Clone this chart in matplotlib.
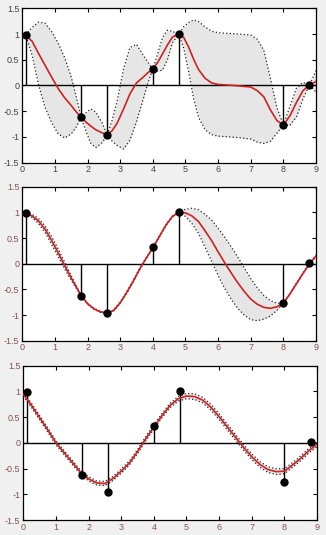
import matplotlib
matplotlib.use("Agg")
import matplotlib.pyplot as plt

# Observations (same in all three panels)
pts_x = [0.1, 1.8, 2.6, 4.0, 4.8, 8.0, 8.8]
pts_y = [0.98, -0.62, -0.96, 0.32, 1.0, -0.77, 0.01]

# Panel 1: predictive mean and half width of the band
x1 = [0.0, 0.1, 0.3, 0.5, 0.7, 0.9, 1.1, 1.3, 1.5, 1.65, 1.8, 1.95, 2.1, 2.25, 2.45, 2.6,
      2.75, 2.9, 3.1, 3.3, 3.5, 3.7, 3.85, 4.0, 4.15, 4.3, 4.45, 4.6, 4.8, 4.95, 5.1, 5.25,
      5.4, 5.6, 5.8, 6.0, 6.5, 7.0, 7.2, 7.4, 7.6, 7.8, 8.0, 8.2, 8.4, 8.6, 8.8, 9.0]
m1 = [0.95, 0.98, 0.86, 0.62, 0.39, 0.16, -0.06, -0.24, -0.39, -0.51, -0.62, -0.71, -0.79, -0.86,
      -0.92, -0.96, -0.88, -0.74, -0.46, -0.16, 0.05, 0.16, 0.25, 0.32, 0.45, 0.62, 0.79, 0.94,
      1.0, 0.93, 0.74, 0.51, 0.31, 0.14, 0.05, 0.02, 0.0, -0.03, -0.10, -0.22, -0.47, -0.68,
      -0.77, -0.59, -0.33, -0.10, 0.01, 0.08]
w1 = [0.05, 0.0, 0.27, 0.61, 0.82, 0.885, 0.88, 0.78, 0.55, 0.30, 0.0, 0.18, 0.335, 0.345,
      0.19, 0.0, 0.20, 0.42, 0.775, 0.90, 0.75, 0.435, 0.2, 0.0, 0.17, 0.32, 0.285, 0.11,
      0.0, 0.215, 0.485, 0.765, 0.93, 1.0, 1.005, 1.005, 1.005, 1.01, 1.0, 0.905, 0.615, 0.25,
      0.0, 0.185, 0.28, 0.16, 0.0, 0.21]

# Panel 2
x2 = [0.0, 0.1, 0.3, 0.5, 0.7, 0.9, 1.1, 1.3, 1.5, 1.65, 1.8,
      2.0, 2.2, 2.4, 2.6, 2.8, 3.0, 3.2, 3.4, 3.6, 3.8, 4.0, 4.2, 4.4, 4.6, 4.8,
      5.0, 5.2, 5.4, 5.6, 5.8, 6.0, 6.2, 6.4, 6.6, 6.8, 7.0, 7.2, 7.4, 7.6, 7.8, 8.0,
      8.2, 8.4, 8.6, 8.8, 9.0]
m2 = [0.96, 0.98, 0.93, 0.83, 0.67, 0.45, 0.21, -0.04, -0.28, -0.45, -0.62,
      -0.78, -0.88, -0.94, -0.96, -0.91, -0.76, -0.56, -0.34, -0.10, 0.11, 0.31, 0.53, 0.75, 0.92, 1.0,
      0.99, 0.93, 0.82, 0.64, 0.45, 0.23, 0.02, -0.18, -0.37, -0.54, -0.69, -0.79, -0.85, -0.87,
      -0.84, -0.77, -0.59, -0.39, -0.19, 0.0, 0.15]
w2 = [0.02, 0.0, 0.03, 0.05, 0.065, 0.075, 0.075, 0.065, 0.045, 0.025, 0.0,
      0.01, 0.01, 0.01, 0.0, 0.01, 0.015, 0.015, 0.015, 0.015, 0.01, 0.0, 0.01, 0.01, 0.01, 0.0,
      0.07, 0.15, 0.23, 0.32, 0.40, 0.46, 0.50, 0.51, 0.50, 0.46, 0.40, 0.32, 0.23, 0.15,
      0.07, 0.0, 0.01, 0.01, 0.01, 0.0, 0.02]

# Panel 3
x3 = [0.0, 0.25, 0.5, 0.75, 1.0, 1.25, 1.5, 1.75, 2.0, 2.25, 2.5, 2.75, 3.0, 3.25, 3.5, 3.75,
      4.0, 4.25, 4.5, 4.75, 5.0, 5.25, 5.5, 5.75, 6.0, 6.25, 6.5, 6.75, 7.0, 7.25, 7.5, 7.75,
      8.0, 8.25, 8.5, 8.75, 9.0]
m3 = [0.95, 0.73, 0.49, 0.25, 0.0, -0.19, -0.38, -0.57, -0.70, -0.78, -0.79, -0.69, -0.55,
      -0.39, -0.17, 0.08, 0.31, 0.53, 0.73, 0.86, 0.91, 0.90, 0.83, 0.69, 0.51, 0.31, 0.11,
      -0.09, -0.27, -0.42, -0.52, -0.56, -0.55, -0.43, -0.30, -0.15, -0.03]
w3 = [0.04, 0.04, 0.04, 0.04, 0.04, 0.04, 0.04, 0.04, 0.04, 0.04, 0.04, 0.04, 0.04,
      0.04, 0.04, 0.04, 0.04, 0.04, 0.04, 0.045, 0.05, 0.055, 0.055, 0.055, 0.055, 0.055, 0.055,
      0.055, 0.055, 0.055, 0.055, 0.055, 0.05, 0.045, 0.045, 0.045, 0.045]

x_ticks = [0, 1, 2, 3, 4, 5, 6, 7, 8, 9]
x_labels = ["0", "1", "2", "3", "4", "5", "6", "7", "8", "9"]
y_ticks = [-1.5, -1, -0.5, 0, 0.5, 1, 1.5]
y_labels = ["-1.5", "-1", "-0.5", "0", "0.5", "1", "1.5"]

plt.rcParams['font.family'] = ['Liberation Sans', 'DejaVu Sans']

fig = plt.figure(figsize=(3.26, 5.35), dpi=100, facecolor="#f0f0f0")

# axes boxes in figure fractions: left, bottom, width, height
boxes = [
    [0.0684, 0.6959, 0.9010, 0.2886],
    [0.0684, 0.3632, 0.9010, 0.2879],
    [0.0715, 0.0280, 0.9010, 0.2884],
]
panels = [(x1, m1, w1, "#444444"), (x2, m2, w2, "#8a5050"), (x3, m3, w3, "#8a5050")]

for box, (xs, ms, ws, lab_col) in zip(boxes, panels):
    ax = fig.add_axes(box)
    ax.set_facecolor("white")
    upper = [m + w for m, w in zip(ms, ws)]
    lower = [m - w for m, w in zip(ms, ws)]

    # confidence band with dotted edges
    ax.fill_between(xs, lower, upper, color="#e6e6e6", lw=0, zorder=1)
    ax.plot(xs, upper, color="#222222", ls=(0, (1, 1.8)), lw=0.9, zorder=2)
    ax.plot(xs, lower, color="#222222", ls=(0, (1, 1.8)), lw=0.9, zorder=2)

    # zero baseline and stems
    ax.axhline(0, color="black", lw=1.0, zorder=3)
    ax.vlines(pts_x, 0, pts_y, color="black", lw=1.0, zorder=3)

    # mean
    ax.plot(xs, ms, color="#cc2222", lw=1.2, zorder=4)

    # data points
    ax.plot(pts_x, pts_y, "o", color="black", ms=5, zorder=5)

    ax.set_xlim(0, 9)
    ax.set_ylim(-1.5, 1.5)
    ax.set_xticks(x_ticks)
    ax.set_xticklabels(x_labels)
    ax.set_yticks(y_ticks)
    ax.set_yticklabels(y_labels)
    ax.tick_params(direction="in", length=3, width=0.8, top=True, right=True,
                   labelsize=6.5, labelcolor=lab_col, pad=2)
    for sp in ax.spines.values():
        sp.set_linewidth(0.9)

fig.savefig("out.png", dpi=100, facecolor=fig.get_facecolor())
